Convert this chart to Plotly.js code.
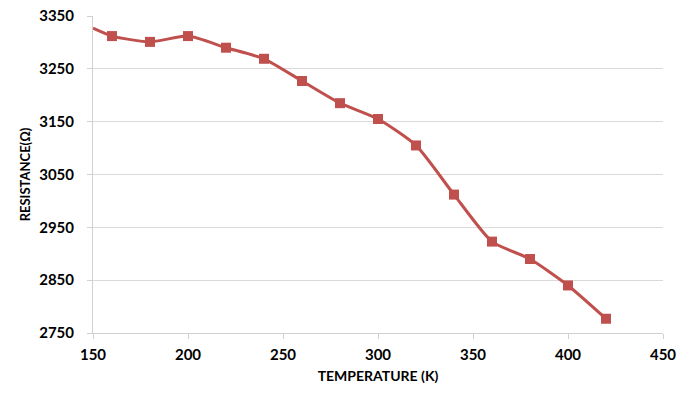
<!DOCTYPE html>
<html>
<head>
<meta charset="utf-8">
<script src="https://cdn.plot.ly/plotly-3.0.1.min.js"></script>
<style>html,body{margin:0;padding:0;background:#fff;}#chart{width:691px;height:397px;}</style>
</head>
<body>
<div id="chart"></div>
<script>
const temperature = [150, 160, 180, 200, 220, 240, 260, 280, 300, 320, 340, 360, 380, 400, 420];
const resistance = [3327, 3312, 3301, 3312, 3290, 3269, 3227, 3185, 3155, 3105, 3012, 2923, 2890, 2840, 2777];
const xTicks = [150, 200, 250, 300, 350, 400, 450];
const yTicks = [2750, 2850, 2950, 3050, 3150, 3250, 3350];

const red = '#C0504D';
const traces = [
  {
    x: temperature, y: resistance, mode: 'lines', type: 'scatter',
    line: {color: red, width: 3, shape: 'spline', smoothing: 0.6},
    hoverinfo: 'skip', showlegend: false
  },
  {
    x: temperature.slice(1), y: resistance.slice(1), mode: 'markers', type: 'scatter',
    marker: {color: red, symbol: 'square', size: 10},
    showlegend: false
  }
];
const tickFont = {family: 'Lato, "Open Sans", sans-serif', size: 15, color: '#000', weight: 'bold'};
const layout = {
  width: 691, height: 397,
  margin: {l: 93, r: 28, t: 16, b: 64},
  paper_bgcolor: '#fff', plot_bgcolor: '#fff',
  xaxis: {
    range: [150, 450], tickvals: xTicks, ticktext: xTicks.map(String),
    showgrid: false, zeroline: false,
    showline: true, linecolor: '#d0d0d0', linewidth: 1,
    ticks: 'outside', ticklen: 5, tickcolor: '#d0d0d0',
    ticklabelstandoff: 3,
    tickfont: tickFont,
    title: {text: '<b>TEMPERATURE (K)</b>', font: {family: 'Lato, sans-serif', size: 14, color: '#000'}, standoff: 9}
  },
  yaxis: {
    range: [2750, 3350], tickvals: yTicks, ticktext: yTicks.map(String),
    showgrid: true, gridcolor: '#d9d9d9', gridwidth: 1, zeroline: false,
    showline: true, linecolor: '#d0d0d0', linewidth: 1,
    ticks: 'outside', ticklen: 5, tickcolor: '#d0d0d0',
    ticklabelstandoff: 10,
    tickfont: tickFont,
    title: {text: '<b>RESISTANCE(Ω)</b>', font: {family: 'Lato, sans-serif', size: 13, color: '#000'}, standoff: 5}
  }
};
Plotly.newPlot('chart', traces, layout, {displayModeBar: false, staticPlot: true});
</script>
</body>
</html>
